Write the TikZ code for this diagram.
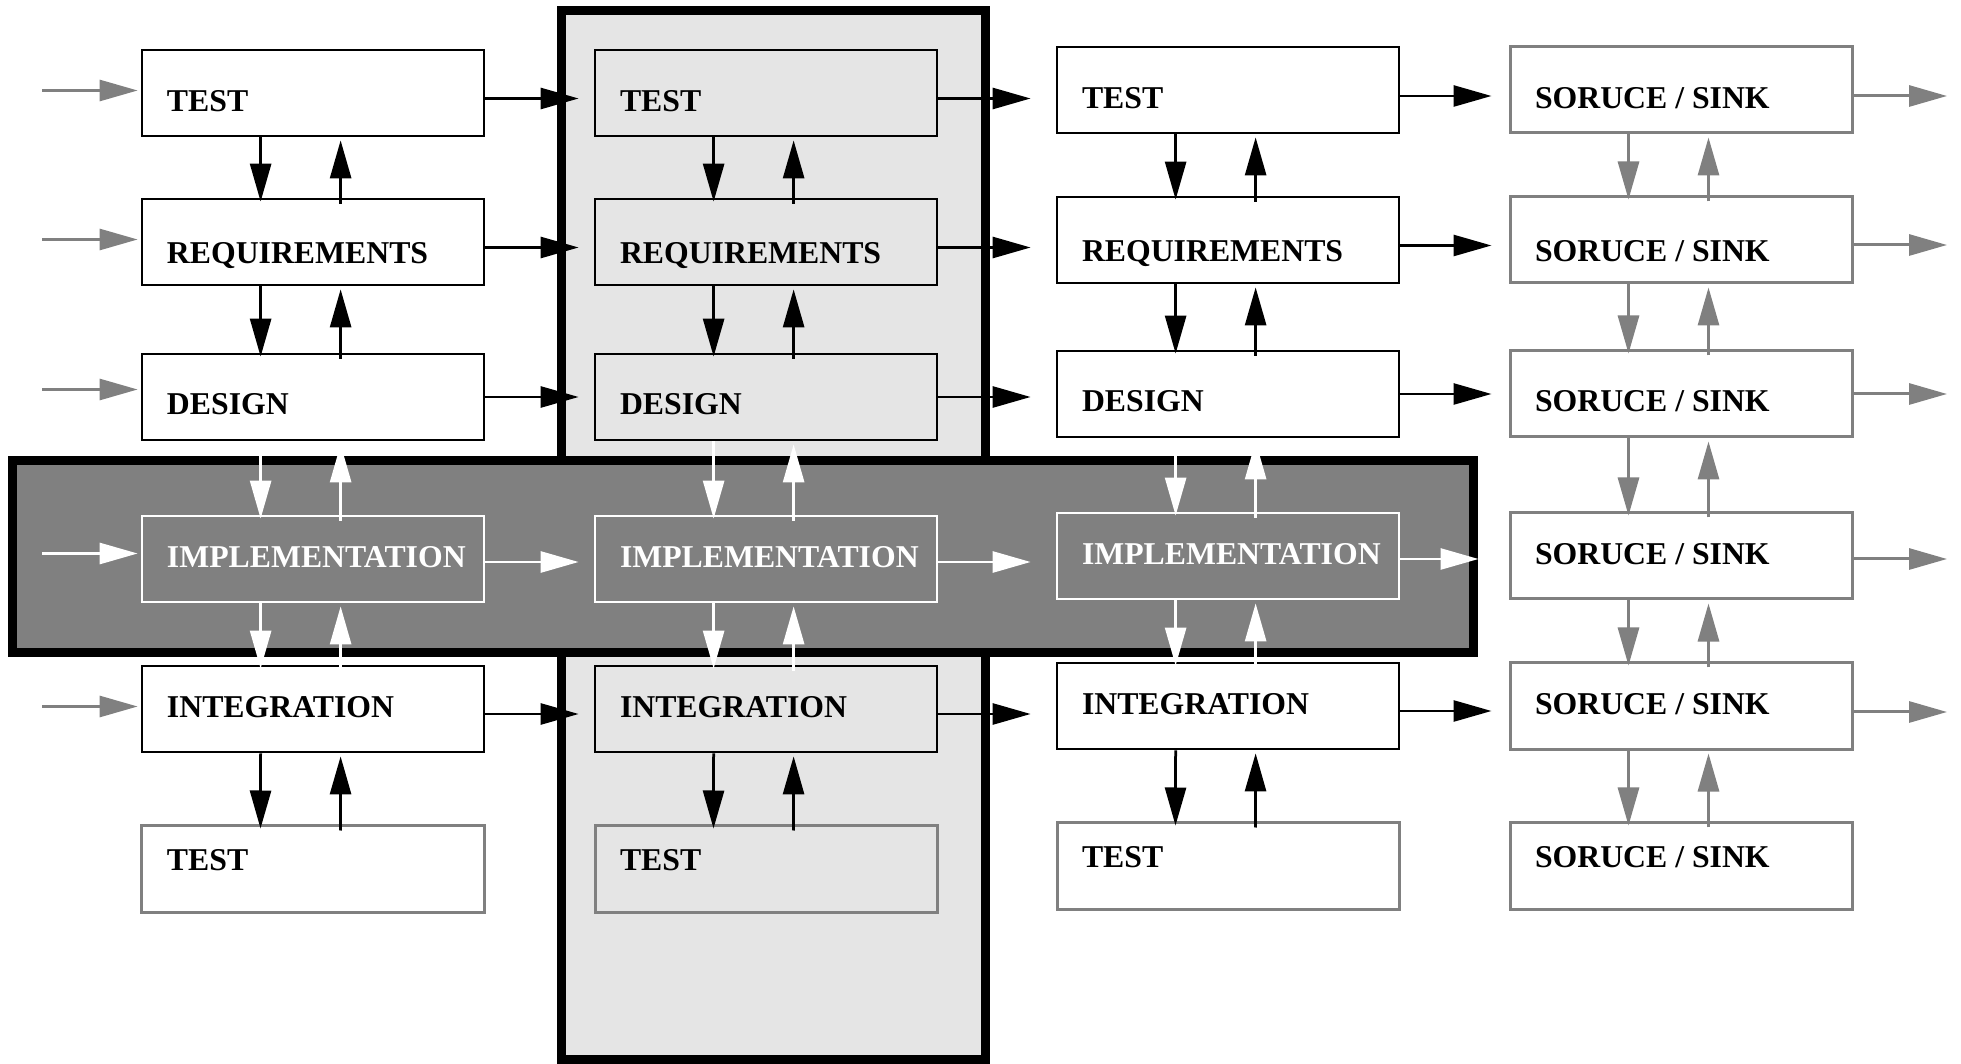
\documentclass[tikz,border=0pt]{standalone}
\usepackage{fontspec}
\setmainfont{Liberation Serif}
\usetikzlibrary{arrows.meta}
\definecolor{bandgray}{RGB}{128,128,128}
\definecolor{colgray}{RGB}{229,229,229}
\definecolor{midgray}{RGB}{128,128,128}
\newcommand\bt[1]{\makebox[116.8pt][l]{#1}}
\begin{document}
\begin{tikzpicture}[x=0.4pt,y=-0.4pt,
  box/.style={draw=black, line width=1.1pt, fill=white, minimum height=34.4pt,
    inner xsep=10pt, inner ysep=0pt, text depth=0pt,
    font=\fontsize{12.7}{15}\selectfont\bfseries, text=black},
  incol/.style={fill=colgray},
  impl/.style={draw=white, fill=bandgray, text=white},
  graybox/.style={draw=midgray, line width=1.2pt},
  rowa/.style={text height=15.2pt},
  rowb/.style={text height=17.6pt},
  rowc/.style={text height=14.4pt},
  rowd/.style={text height=6.8pt},
  rowe/.style={text height=7.2pt},
  rowf/.style={text height=1.2pt},
  arr/.style={line width=1.1pt, -{Triangle[length=15.2pt,width=8.4pt]}},
  varr/.style={arr},
  thick border/.style={line width=3.6pt, draw=black}
]
\useasboundingbox (0,0) rectangle (1961,1064);
\fill[white] (0,0) rectangle (1961,1064);

% light vertical column and dark horizontal band
\draw[thick border, fill=colgray] (561.5,10.5) rectangle (985.5,1059.5);
\draw[thick border, fill=bandgray] (12.5,460.5) rectangle (1473.5,652.5);

% column 1
\node[box,rowa] (b11) at (313,93) {\bt{TEST}};
\node[box,rowb] (b12) at (313,242) {\bt{REQUIREMENTS}};
\node[box,rowc] (b13) at (313,397) {\bt{DESIGN}};
\node[box,impl,rowd] (b14) at (313,559) {\bt{IMPLEMENTATION}};
\node[box,rowe] (b15) at (313,709) {\bt{INTEGRATION}};
\node[box,graybox,rowf] (b16) at (313,869) {\bt{TEST}};
% column 2
\node[box,incol,rowa] (b21) at (766,93) {\bt{TEST}};
\node[box,incol,rowb] (b22) at (766,242) {\bt{REQUIREMENTS}};
\node[box,incol,rowc] (b23) at (766,397) {\bt{DESIGN}};
\node[box,impl,rowd] (b24) at (766,559) {\bt{IMPLEMENTATION}};
\node[box,incol,rowe] (b25) at (766,709) {\bt{INTEGRATION}};
\node[box,incol,graybox,rowf] (b26) at (766,869) {\bt{TEST}};
% column 3
\node[box,rowa] (b31) at (1228,90) {\bt{TEST}};
\node[box,rowb] (b32) at (1228,240) {\bt{REQUIREMENTS}};
\node[box,rowc] (b33) at (1228,394) {\bt{DESIGN}};
\node[box,impl,rowd] (b34) at (1228,556) {\bt{IMPLEMENTATION}};
\node[box,rowe] (b35) at (1228,706) {\bt{INTEGRATION}};
\node[box,graybox,rowf] (b36) at (1228,866) {\bt{TEST}};
% column 4
\node[box,graybox,rowa] (b41) at (1681,90) {\bt{SORUCE / SINK}};
\node[box,graybox,rowb] (b42) at (1681,240) {\bt{SORUCE / SINK}};
\node[box,graybox,rowc] (b43) at (1681,394) {\bt{SORUCE / SINK}};
\node[box,graybox,rowd] (b44) at (1681,556) {\bt{SORUCE / SINK}};
\node[box,graybox,rowe] (b45) at (1681,706) {\bt{SORUCE / SINK}};
\node[box,graybox,rowf] (b46) at (1681,866) {\bt{SORUCE / SINK}};

% vertical arrows
\foreach \c in {1,2,3}{
  \foreach \r/\s/\clr in {1/2/black,2/3/black,3/4/white,4/5/white,5/6/black}{
    \draw[varr,\clr,shorten >=-1.6pt] ([xshift=48pt]b\c\r.south west) -- ([xshift=48pt]b\c\s.north west);
    \draw[varr,\clr,shorten <=-2.4pt,shorten >=1.2pt] ([xshift=80pt]b\c\s.north west) -- ([xshift=80pt]b\c\r.south west);
  }
}
\foreach \r/\s in {1/2,2/3,3/4,4/5,5/6}{
  \draw[varr,midgray,line width=1.2pt,shorten >=-1.6pt] ([xshift=48pt]b4\r.south west) -- ([xshift=48pt]b4\s.north west);
  \draw[varr,midgray,line width=1.2pt,shorten <=-2.4pt,shorten >=1.2pt] ([xshift=80pt]b4\s.north west) -- ([xshift=80pt]b4\r.south west);
}

% incoming arrows
\coordinate (in1) at (42,90.5);
\coordinate (in2) at (42,239.5);
\coordinate (in3) at (42,389.5);
\coordinate (in4) at (42,553.5);
\coordinate (in5) at (42,706.5);
\foreach \r/\clr in {1/midgray,2/midgray,3/midgray,4/white,5/midgray}{
  \draw[arr,\clr,shorten >=1.2pt] (in\r) -- (in\r -| b1\r.west);
}

% horizontal arrows between columns
\foreach \r/\ys/\clr in {1/-2.2/black,2/-2.2/black,3/0/black,4/-1.2/white,5/-2/black}{
  \coordinate (a\r) at ([yshift=\ys pt]b1\r.east);
  \draw[arr,\clr,shorten >=6pt] (a\r) -- (a\r -| b2\r.west);
  \coordinate (m\r) at ([yshift=\ys pt]b2\r.east);
  \draw[arr,\clr,shorten >=10pt] (m\r) -- (m\r -| b3\r.west);
}
\foreach \r/\ys in {1/-2.4,2/-2.2,3/0,5/-2}{
  \coordinate (k\r) at ([yshift=\ys pt]b3\r.east);
  \draw[arr,black,shorten >=6.8pt] (k\r) -- (k\r -| b4\r.west);
}
\coordinate (k4) at ([yshift=-1.2pt]b34.east);
\draw[arr,white,shorten >=12pt] (k4) -- (k4 -| b44.west);

% outgoing arrows
\coordinate (out1) at (1947,96);
\coordinate (out2) at (1947,245);
\coordinate (out3) at (1947,394);
\coordinate (out4) at (1947,559);
\coordinate (out5) at (1947,712);
\foreach \r in {1,...,5}{
  \draw[arr,midgray,line width=1.2pt] (out\r -| b4\r.east) -- (out\r);
}
\end{tikzpicture}
\end{document}
